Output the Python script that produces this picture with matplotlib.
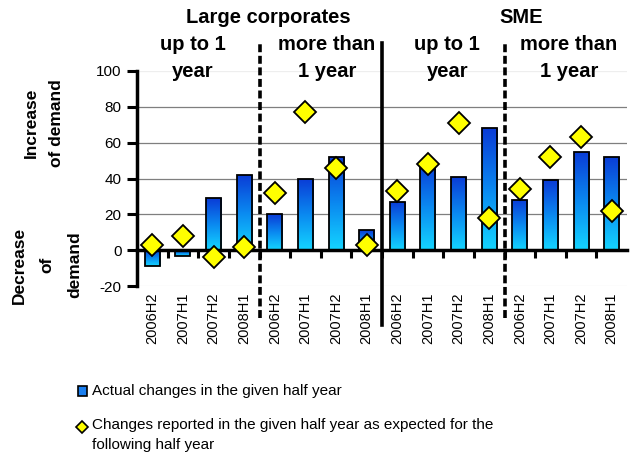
import numpy as np
import matplotlib
matplotlib.use("Agg")
import matplotlib.pyplot as plt
from matplotlib.colors import LinearSegmentedColormap
from matplotlib.lines import Line2D
from matplotlib.patches import Rectangle

##########
# Data   #
##########
periods = ["2006H2", "2007H1", "2007H2", "2008H1"] * 4
actual = [-9, -3, 29, 42,   20, 40, 52, 11,   27, 49, 41, 68,   28, 39, 55, 52]
expected = [3, 8, -4, 2,    32, 77, 46, 3,    33, 48, 71, 18,   34, 52, 63, 22]
segments = ["Large corporates", "SME"]
maturities = ["up to 1\nyear", "more than\n1 year", "up to 1\nyear", "more than\n1 year"]

plt.rcParams["font.family"] = ["Liberation Sans", "DejaVu Sans"]
plt.rcParams["axes.unicode_minus"] = False

fig = plt.figure(figsize=(6.37, 4.59), dpi=100)
ax = fig.add_axes([137 / 637, 1 - 286 / 459, (627 - 137) / 637, 215 / 459])

x = np.arange(len(actual))

# gradient filled bars
cmap = LinearSegmentedColormap.from_list("bar", ["#0a3cd6", "#0a88f0", "#14d4ff"])
grad = np.linspace(0, 1, 64).reshape(-1, 1)
bars = ax.bar(x, actual, width=0.49, facecolor="none", edgecolor="black",
              linewidth=1.3, zorder=3)
for b in bars:
    x0, y0 = b.get_x(), b.get_y()
    w, h = b.get_width(), b.get_height()
    im = ax.imshow(grad, extent=[x0, x0 + w, min(y0, y0 + h), max(y0, y0 + h)],
                   cmap=cmap, aspect="auto", origin="upper", zorder=2)
    im.set_clip_path(b)
ax.set_xlim(-0.5, len(actual) - 0.5)
ax.set_ylim(-20, 100)

ax.plot(x, expected, linestyle="none", marker="D", markersize=11,
        markerfacecolor="#ffff00", markeredgecolor="black", markeredgewidth=1.3,
        zorder=5)

# axes styling
for s in ["top", "right"]:
    ax.spines[s].set_visible(False)
ax.spines["left"].set_linewidth(2.5)
ax.spines["bottom"].set_position(("data", 0))
ax.spines["bottom"].set_linewidth(2.5)
ax.spines["bottom"].set_zorder(4)
ax.set_yticks(range(-20, 101, 20))
ax.tick_params(axis="y", length=7, width=2.2, labelsize=11, pad=4)
ax.set_xticks(np.arange(0.5, len(actual) - 0.5, 1.0))
ax.tick_params(axis="x", length=6, width=2.2, labelbottom=False)
ax.yaxis.grid(True, color="#7f7f7f", linewidth=0.9)
ax.set_axisbelow(True)
gl = ax.get_ygridlines()
gl[0].set_color("#eeeeee")
gl[-1].set_color("#eeeeee")

sec = ax.secondary_xaxis(0.0)
sec.set_xticks(x, periods, rotation=90, fontsize=10.5)
sec.tick_params(length=0, pad=5)
sec.spines["bottom"].set_visible(False)

# group separators
ax.axvline(3.5, ymin=-0.149, ymax=1.135, color="black", lw=2.6,
           linestyle=(0, (2.2, 1.0)), clip_on=False, zorder=6)
ax.axvline(7.5, ymin=-0.181, ymax=1.13, color="black", lw=2.6,
           clip_on=False, zorder=6)
ax.axvline(11.5, ymin=-0.149, ymax=1.13, color="black", lw=2.6,
           linestyle=(0, (2.2, 1.0)), clip_on=False, zorder=6)

# headers
trans = ax.get_xaxis_transform()
for xs, txt in zip([3.8, 12.05], segments):
    ax.text(xs, 1.251, txt, transform=trans, ha="center", va="center",
            fontsize=14.5, fontweight="bold", clip_on=False)
for xs, txt in zip([1.33, 5.7, 9.63, 13.6], maturities):
    ax.text(xs, 1.06, txt, transform=trans, ha="center", va="center",
            fontsize=14.5, fontweight="bold", linespacing=1.5, clip_on=False)

# y-axis side labels
fig.text(44 / 637, 1 - 123 / 459, "Increase\nof demand", rotation=90,
         ha="center", va="center", fontsize=12.5, fontweight="bold",
         linespacing=1.85)
fig.text(47 / 637, 1 - 265 / 459, "Decrease\nof\ndemand", rotation=90,
         ha="center", va="center", fontsize=12.5, fontweight="bold",
         linespacing=2.05)

# legend
fig.add_artist(Rectangle((78 / 637, 1 - 396 / 459), 9 / 637, 10 / 459,
                         transform=fig.transFigure, facecolor="#1a7ff0",
                         edgecolor="black", linewidth=1.2))
fig.text(92 / 637, 1 - 391 / 459, "Actual changes in the given half year",
         ha="left", va="center", fontsize=11)
fig.add_artist(Line2D([82.5 / 637], [1 - 427 / 459], transform=fig.transFigure,
                      marker="D", markersize=6.5, markerfacecolor="#ffff00",
                      markeredgecolor="black", markeredgewidth=1.2))
fig.text(92 / 637, 1 - 418 / 459,
         "Changes reported in the given half year as expected for the\nfollowing half year",
         ha="left", va="top", fontsize=11, linespacing=1.55)

fig.savefig("out.png", dpi=100)
